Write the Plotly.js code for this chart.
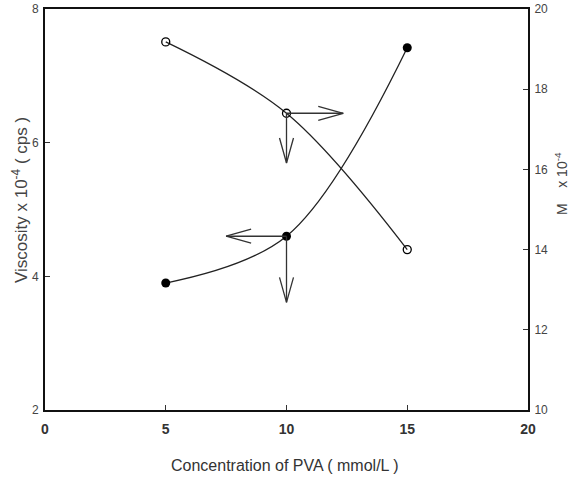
<!DOCTYPE html>
<html><head><meta charset="utf-8">
<script src="https://cdn.plot.ly/plotly-3.0.1.min.js"></script>
<style>html,body{margin:0;padding:0;background:#fff}</style>
</head><body><div id="chart" style="width:572px;height:481px"></div>
<script>
// Data
var concentration = [5, 10, 15];
var viscosity = [3.9, 4.6, 7.42];        // left axis (filled circles)
var molWeight = [19.18, 17.4, 14.0];     // right axis (open circles)
// Arrows indicating which axis each curve belongs to: [x0, y0, x1, y1]
var viscArrows = [[10, 4.6, 7.5, 4.6], [10, 4.6, 10, 3.61]];
var mwArrows = [[10, 17.4, 12.35, 17.4], [10, 17.4, 10, 16.16]];
var xTicks = [0, 5, 10, 15, 20];
var yTicks = [2, 4, 6, 8];
var y2Ticks = [10, 12, 14, 16, 18, 20];
var xTitle = 'Concentration of PVA ( mmol/L )';
var yTitle = 'Viscosity x 10<sup>-4</sup> ( cps )';
var y2Title = 'M    x 10<sup>-4</sup>';

var W = 572, H = 481, mL = 45, mR = 44, mT = 9, mB = 71;
var pw = W - mL - mR, ph = H - mT - mB;
var xr = [0, 20], yr = [2, 8], y2r = [10, 20];

function arrowPath(list, r) {
  var xs = [], ys = [];
  var sx = pw / (xr[1] - xr[0]), sy = ph / (r[1] - r[0]);
  var headL = 25, headW = 7;
  list.forEach(function (a) {
    var px0 = a[0] * sx, py0 = a[1] * sy, px1 = a[2] * sx, py1 = a[3] * sy;
    var dx = px1 - px0, dy = py1 - py0, len = Math.sqrt(dx * dx + dy * dy);
    var ux = dx / len, uy = dy / len, nx = -uy, ny = ux;
    var bx = px1 - ux * headL, by = py1 - uy * headL;
    xs.push(a[0], a[2], null);
    ys.push(a[1], a[3], null);
    xs.push((bx + nx * headW) / sx, a[2], (bx - nx * headW) / sx, null);
    ys.push((by + ny * headW) / sy, a[3], (by - ny * headW) / sy, null);
  });
  return {x: xs, y: ys};
}
var va = arrowPath(viscArrows, yr), ma = arrowPath(mwArrows, y2r);

var traces = [
  {x: concentration, y: viscosity, type: 'scatter', mode: 'lines+markers',
   line: {shape: 'spline', color: '#222', width: 1.3},
   marker: {symbol: 'circle', size: 9, color: '#000'}, yaxis: 'y', hoverinfo: 'none'},
  {x: concentration, y: molWeight, type: 'scatter', mode: 'lines+markers',
   line: {shape: 'spline', color: '#222', width: 1.3},
   marker: {symbol: 'circle-open', size: 8, color: '#000', line: {width: 1.3, color: '#000'}}, yaxis: 'y2', hoverinfo: 'none'},
  {x: va.x, y: va.y, type: 'scatter', mode: 'lines', line: {color: '#333', width: 1.3}, yaxis: 'y', hoverinfo: 'none'},
  {x: ma.x, y: ma.y, type: 'scatter', mode: 'lines', line: {color: '#333', width: 1.3}, yaxis: 'y2', hoverinfo: 'none'}
];

function px2paperX(p) { return (p - mL) / pw; }
function px2paperY(p) { return (H - mB - p) / ph; }

var fontFam = '"Liberation Sans", Arial, sans-serif';
var layout = {
  width: W, height: H,
  margin: {l: mL, r: mR, t: mT, b: mB},
  showlegend: false,
  paper_bgcolor: '#fff', plot_bgcolor: '#fff',
  font: {family: fontFam, color: '#333'},
  xaxis: {range: xr, tickvals: xTicks, ticktext: xTicks.map(String),
    showgrid: false, zeroline: false, showline: true, linecolor: '#111', linewidth: 2,
    mirror: true, ticks: 'inside', ticklen: 5, tickwidth: 1, tickcolor: '#333',
    ticklabelstandoff: 5,
    tickfont: {size: 14, weight: 'bold', color: '#333'},
    automargin: false},
  yaxis: {range: yr, tickvals: yTicks, ticktext: yTicks.map(String),
    showgrid: false, zeroline: false, showline: true, linecolor: '#111', linewidth: 2,
    ticks: 'inside', ticklen: 5, tickwidth: 1, tickcolor: '#333', ticklabelstandoff: 2,
    tickfont: {size: 12, color: '#444'},
    automargin: false},
  yaxis2: {range: y2r, tickvals: y2Ticks, ticktext: y2Ticks.map(String), overlaying: 'y', side: 'right',
    showgrid: false, zeroline: false, showline: true, linecolor: '#111', linewidth: 2,
    ticks: 'inside', ticklen: 5, tickwidth: 1, tickcolor: '#333', ticklabelstandoff: 2,
    tickfont: {size: 12, color: '#444'},
    automargin: false},
  annotations: [
    {text: xTitle, xref: 'paper', yref: 'paper', x: px2paperX(285), y: px2paperY(465),
     xanchor: 'center', yanchor: 'middle', showarrow: false, font: {size: 16, color: '#333'}},
    {text: yTitle, xref: 'paper', yref: 'paper', x: px2paperX(20), y: px2paperY(200),
     xanchor: 'center', yanchor: 'middle', showarrow: false, textangle: -90, font: {size: 17, color: '#444'}},
    {text: y2Title, xref: 'paper', yref: 'paper', x: px2paperX(561), y: px2paperY(184),
     xanchor: 'center', yanchor: 'middle', showarrow: false, textangle: -90, font: {size: 14, color: '#444'}}
  ]
};
Plotly.newPlot('chart', traces, layout, {displayModeBar: false, staticPlot: true});
</script></body></html>
